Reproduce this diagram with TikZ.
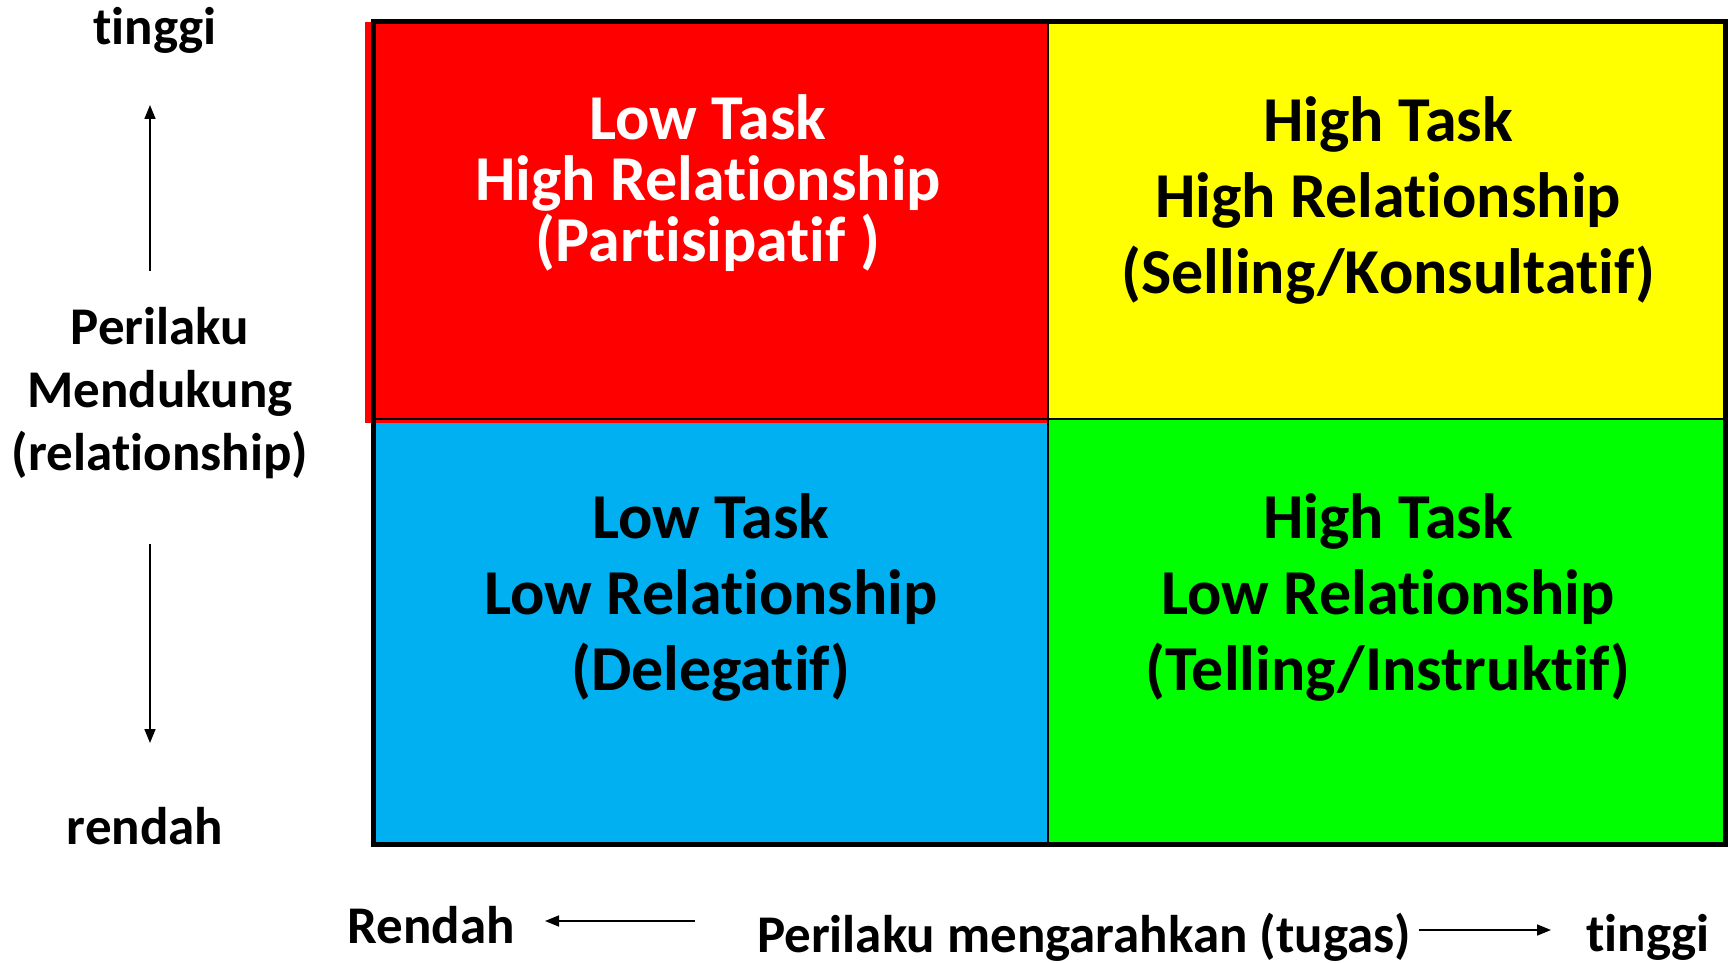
\documentclass[tikz,border=0pt]{standalone}
\usepackage{fontspec}
\setmainfont{Carlito}[Ligatures=NoCommon]
\usetikzlibrary{positioning,arrows.meta}

\definecolor{quadred}{HTML}{FF0000}
\definecolor{quadyellow}{HTML}{FFFF00}
\definecolor{quadblue}{HTML}{00B0F0}
\definecolor{quadgreen}{HTML}{00FF00}

\tikzset{
  cell/.style={inner sep=0pt, outer sep=0pt, anchor=north west},
  quadtext/.style={align=center, font=\fontsize{64}{#1}\selectfont\bfseries},
  quadtext/.default=76,
  axtext/.style={align=center, font=\fontsize{53}{63}\selectfont\bfseries},
  axarrow/.style={line width=1.6pt, -{Triangle[length=14pt,width=11pt]}},
}

\begin{document}
\begin{tikzpicture}[x=1pt,y=-1pt]
  \useasboundingbox (0,0) rectangle (1734,963);

  % quadrants
  \node[cell, fill=quadblue, minimum width=675pt, minimum height=425pt] (delegatif) at (373,419) {};
  \node[cell, fill=quadred, minimum width=683pt, minimum height=401pt] (partisipatif) at (365,22) {};
  \node[cell, fill=quadyellow, minimum width=677pt, minimum height=397pt] (selling) at (1048,22) {};
  \node[cell, fill=quadgreen, minimum width=677pt, minimum height=425pt] (telling) at (1048,419) {};

  % grid
  \draw[line width=2.5pt] (selling.north west) -- (telling.south west);
  \draw[line width=2.5pt] (373,419) -- (selling.south east);
  \draw[line width=5pt] (373,22) rectangle (telling.south east);

  \node[quadtext=61, text=white] (lowhigh) at (708,183) {Low Task\\High Relationship\\(Partisipatif )};
  \node[quadtext] (highhigh) at (1388,200) {High Task\\High Relationship\\(Selling/Konsultatif)};
  \node[quadtext] (lowlow) at (711,597) {Low Task\\Low Relationship\\(Delegatif)};
  \node[quadtext] (highlow) at (1388,597) {High Task\\Low Relationship\\(Telling/Instruktif)};

  % vertical axis
  \node[axtext] (ytop) at (155,30) {tinggi};
  \node[axtext] (ylabel) at (160,393) {Perilaku\\Mendukung\\(relationship)};
  \node[axtext] (ybottom) at (145,826) {rendah};
  \coordinate (upS) at (150,271);
  \coordinate (upE) at (150,105);
  \coordinate (downS) at (150,544);
  \coordinate (downE) at (150,743);
  \draw[axarrow] (upS) -- (upE);
  \draw[axarrow] (downS) -- (downE);

  % horizontal axis
  \node[axtext] (xlow) at (431,925) {Rendah};
  \node[axtext] (xlabel) at (1084,937) {Perilaku mengarahkan (tugas)};
  \node[axtext] (xhigh) at (1648,937) {tinggi};
  \coordinate (leftS) at (695,921);
  \coordinate (leftE) at (545,921);
  \coordinate (rightS) at (1419,930);
  \coordinate (rightE) at (1551,930);
  \draw[axarrow] (leftS) -- (leftE);
  \draw[axarrow] (rightS) -- (rightE);
\end{tikzpicture}
\end{document}
